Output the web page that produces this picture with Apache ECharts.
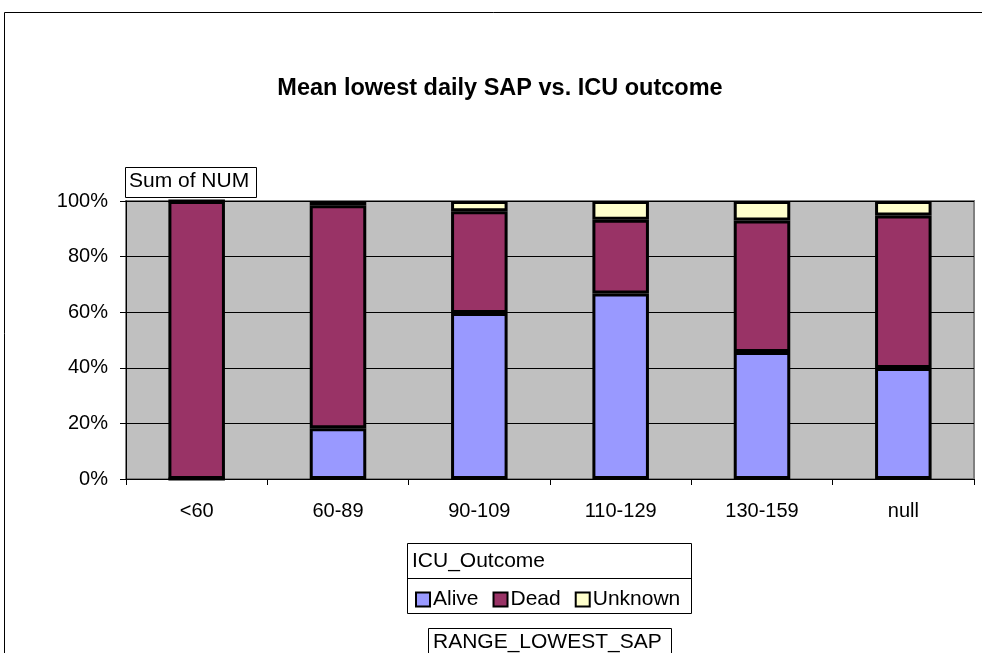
<!DOCTYPE html>
<html>
<head>
<meta charset="utf-8">
<script src="https://cdn.jsdelivr.net/npm/echarts@6/dist/echarts.min.js"></script>
<style>html,body{margin:0;padding:0;background:#fff}#c{width:982px;height:653px}</style>
</head>
<body>
<div id="c"></div>
<script>
const categories = ['<60', '60-89', '90-109', '110-129', '130-159', 'null'];
const alive   = [0, 18.3, 59.7, 66.7, 45.7, 39.9];
const dead    = [100, 80.2, 36.6, 26.6, 47.3, 54.9];
const unknown = [0, 1.5, 3.7, 6.7, 7.0, 5.2];
const yTicks = [0, 20, 40, 60, 80, 100];

const FONT = 'Liberation Sans, Arial, sans-serif';
const chart = echarts.init(document.getElementById('c'), null, {renderer: 'canvas'});
const barStyle = (c) => ({color: c, borderColor: '#000', borderWidth: 3});
chart.setOption({
  animation: false,
  backgroundColor: '#fff',
  grid: {
    left: 126, right: 8, top: 201, bottom: 174,
    show: true, backgroundColor: '#C0C0C0', borderColor: '#808080', borderWidth: 2
  },
  legend: {
    data: ['Alive', 'Dead', 'Unknown'],
    left: 410, top: 584, itemGap: 14, itemWidth: 14, itemHeight: 14,
    icon: 'rect',
    itemStyle: {borderColor: '#000', borderWidth: 2},
    textStyle: {fontFamily: FONT, fontSize: 21, color: '#000', padding: [0, 0, 0, -2]}
  },
  xAxis: {
    type: 'category', data: categories,
    axisLine: {lineStyle: {color: '#000', width: 1}},
    axisTick: {show: true, length: 6, lineStyle: {color: '#000'}},
    axisLabel: {fontFamily: FONT, fontSize: 20, color: '#000', margin: 22}
  },
  yAxis: {
    type: 'value', min: 0, max: 100, interval: 20,
    axisLine: {show: true, lineStyle: {color: '#000'}},
    axisTick: {show: true, length: 6, lineStyle: {color: '#000'}},
    axisLabel: {fontFamily: FONT, fontSize: 20, color: '#000', margin: 18,
      formatter: (v) => yTicks.includes(v) ? v + '%' : ''},
    splitLine: {lineStyle: {color: '#000', width: 1}}
  },
  series: [
    {name: 'Alive', type: 'bar', stack: 's', data: alive, barWidth: '40%', itemStyle: barStyle('#9999FF')},
    {name: 'Dead', type: 'bar', stack: 's', data: dead, barWidth: '40%', itemStyle: barStyle('#993366')},
    {name: 'Unknown', type: 'bar', stack: 's', data: unknown, barWidth: '40%', itemStyle: barStyle('#FFFFCC')}
  ],
  graphic: [
    {type: 'rect', shape: {x: 4.5, y: 12.5, width: 990, height: 700}, style: {fill: 'none', stroke: '#000', lineWidth: 1}, z: 100},
    {type: 'text', x: 500, y: 89, style: {text: 'Mean lowest daily SAP vs. ICU outcome', font: 'bold 23.5px ' + FONT, fill: '#000', textAlign: 'center', textVerticalAlign: 'middle'}, z: 101},
    {type: 'rect', shape: {x: 125.5, y: 167.5, width: 131, height: 30}, style: {fill: '#fff', stroke: '#000', lineWidth: 1}, z: 100},
    {type: 'text', x: 129, y: 181, style: {text: 'Sum of NUM', font: '21px ' + FONT, fill: '#000', textVerticalAlign: 'middle'}, z: 101},
    {type: 'rect', shape: {x: 407.5, y: 543.5, width: 284, height: 70}, style: {fill: 'none', stroke: '#000', lineWidth: 1}, z: 100},
    {type: 'line', shape: {x1: 407.5, y1: 578.5, x2: 691.5, y2: 578.5}, style: {stroke: '#000', lineWidth: 1}, z: 100},
    {type: 'text', x: 412, y: 561, style: {text: 'ICU_Outcome', font: '21px ' + FONT, fill: '#000', textVerticalAlign: 'middle'}, z: 101},
    {type: 'rect', shape: {x: 428.5, y: 628.5, width: 243, height: 40}, style: {fill: '#fff', stroke: '#000', lineWidth: 1}, z: 100},
    {type: 'text', x: 433, y: 642, style: {text: 'RANGE_LOWEST_SAP', font: '21px ' + FONT, fill: '#000', textVerticalAlign: 'middle'}, z: 101}
  ]
});
</script>
</body>
</html>
